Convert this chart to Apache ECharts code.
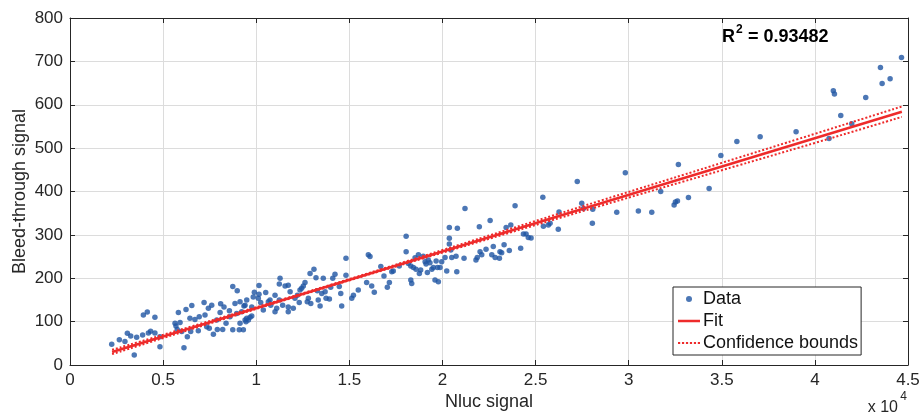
<!DOCTYPE html>
<html><head><meta charset="utf-8">
<script src="https://cdn.jsdelivr.net/npm/echarts@6/dist/echarts.min.js"></script>
<style>html,body{margin:0;padding:0;background:#fff}#c{width:922px;height:417px}</style>
</head><body><div id="c"></div>
<script>
// Nluc signal (x 10^4) and bleed-through signal for each measured sample
const nlucSignal = [
0.224,0.265,0.295,0.308,0.326,0.345,0.358,0.390,0.394,0.415,0.421,0.433,0.456,0.456,0.483,0.483,0.564,0.569,0.582,0.591,
0.576,0.600,0.612,0.623,0.630,0.644,0.648,0.654,0.671,0.694,0.689,0.720,0.725,0.734,0.743,0.748,0.761,0.770,0.788,0.791,
0.806,0.809,0.820,0.827,0.838,0.856,0.859,0.874,0.874,0.886,0.895,0.898,0.909,0.913,0.922,0.934,0.945,0.949,0.958,
0.990,1.015,1.015,1.051,1.101,1.128,1.011,1.074,1.124,
0.940,0.976,0.984,1.024,0.940,0.949,0.967,0.976,0.931,0.913,1.038,1.065,1.078,1.101,1.110,1.124,1.142,1.155,1.172,1.172,
1.172,1.182,1.199,1.208,1.221,1.231,1.235,1.244,1.253,1.262,1.274,1.280,1.289,1.293,1.310,1.321,1.328,1.333,1.343,1.352,
1.360,1.370,1.375,1.393,1.400,1.411,1.423,1.446,1.454,1.459,1.482,1.482,1.513,1.522,1.548,1.602,1.611,1.593,1.620,1.634,
1.669,1.686,1.704,1.715,
1.728,1.736,1.768,1.805,1.805,1.817,1.830,1.835,1.830,1.844,1.858,1.871,1.876,1.883,1.897,1.907,1.912,1.919,1.924,1.933,
1.943,1.951,1.960,1.966,1.973,1.978,1.987,1.996,2.014,2.023,2.037,2.037,2.037,2.045,2.050,2.073,2.080,2.077,2.116,2.121,
2.180,2.187,2.198,2.202,2.211,2.234,2.256,2.265,2.273,2.283,2.306,2.309,2.318,2.331,2.342,2.359,2.367,2.390,2.420,2.435,
2.449,2.461,2.476,1.853,
2.539,2.542,2.569,2.578,2.622,2.626,2.724,2.748,2.757,2.807,2.805,2.936,2.982,3.052,3.124,3.172,3.244,3.251,3.262,3.267,
3.321,3.432,3.495,3.581,3.706,3.899,4.076,4.099,4.105,4.139,4.198,4.273,4.352,4.361,4.404,4.465
];
const bleedSignal = [
48,58,54,73,67,23,64,69,115,122,74,78,110,74,42,65,96,90,121,98,
82,77,40,128,65,108,77,137,105,111,79,144,115,88,131,85,138,71,104,82,
121,141,82,134,96,125,111,181,81,142,119,171,81,146,123,136,100,150,104,
168,183,163,167,161,200,154,150,187,
138,134,157,144,104,108,110,113,81,96,127,146,138,123,131,150,138,182,184,134,
123,169,131,154,161,144,173,177,182,190,146,154,211,142,221,201,171,150,136,165,
200,169,154,152,179,200,209,181,165,136,246,207,154,161,173,254,250,190,182,168,
227,205,179,190,
215,217,228,297,261,234,196,188,228,225,221,254,211,219,251,238,233,213,242,236,
221,225,196,240,225,192,225,238,248,217,317,292,279,265,248,251,315,215,246,361,
242,248,319,261,254,267,333,254,273,248,246,261,259,277,317,264,323,367,269,302,
302,294,293,247,
387,320,323,327,313,353,423,373,361,359,327,352,443,355,352,400,369,376,378,462,
386,407,483,515,526,538,522,632,625,575,556,617,686,649,660,709
];
// Linear fit and its confidence bounds
const fitX = [0.226, 4.467];
const fitY = [30, 584];
const boundX = [0.226, 0.7, 1.4, 2.0, 2.85, 3.5, 4.0, 4.467];
const upperY = [35, 95, 185, 265, 379, 466, 533, 596];
const lowerY = [25, 89, 182, 259, 367, 449, 512, 572];
const rSquared = '0.93482';
const xLabel = 'Nluc signal';
const yLabel = 'Bleed-through signal';
const seriesNames = ['Data', 'Fit', 'Confidence bounds'];

const FONT = '"Liberation Sans", Arial, Helvetica, sans-serif';
const AX = '#262626';
const RED = '#ee2b2b';
const BLUE = '#1f55a3';

const chart = echarts.init(document.getElementById('c'), null, {renderer: 'canvas'});
const pairs = (xs, ys) => xs.map((x, i) => [x, ys[i]]);

const axisCommon = {
  type: 'value',
  axisLine: {show: true, onZero: false, lineStyle: {color: AX, width: 1}},
  axisTick: {show: true, inside: true, length: 5, lineStyle: {color: AX, width: 1}},
};

const solidIcon = 'path://M0,0H22V2.5H0Z';
const dottedIcon = 'path://M0,0h2.2v2.2h-2.2zM4,0h2.2v2.2h-2.2zM8,0h2.2v2.2h-2.2zM12,0h2.2v2.2h-2.2zM16,0h2.2v2.2h-2.2zM20,0h2.2v2.2h-2.2z';

chart.setOption({
  animation: false,
  backgroundColor: '#fff',
  textStyle: {fontFamily: FONT},
  grid: {left: 70, right: 14, top: 18, bottom: 52, containLabel: false, outerBoundsMode: 'none'},
  xAxis: [
    Object.assign({}, axisCommon, {
      min: 0, max: 4.5, interval: 0.5, position: 'bottom',
      axisLabel: {color: AX, fontSize: 17, margin: 7, fontFamily: FONT},
      splitLine: {show: true, lineStyle: {color: '#dcdcdc', width: 1}},
      name: xLabel, nameLocation: 'middle', nameGap: 28, nameMoveOverlap: false,
      nameTextStyle: {color: AX, fontSize: 18, fontFamily: FONT}
    }),
    Object.assign({}, axisCommon, {
      min: 0, max: 4.5, interval: 0.5, position: 'top',
      axisLabel: {show: false}, splitLine: {show: false}
    })
  ],
  yAxis: [
    Object.assign({}, axisCommon, {
      min: 0, max: 800, interval: 100, position: 'left',
      axisLabel: {color: AX, fontSize: 17, margin: 7, fontFamily: FONT},
      splitLine: {show: true, lineStyle: {color: '#dcdcdc', width: 1}},
      name: yLabel, nameLocation: 'middle', nameGap: 41, nameMoveOverlap: false,
      nameTextStyle: {color: AX, fontSize: 18, fontFamily: FONT}
    }),
    Object.assign({}, axisCommon, {
      min: 0, max: 800, interval: 100, position: 'right',
      axisLabel: {show: false}, splitLine: {show: false}
    })
  ],
  legend: {
    orient: 'vertical', left: 673, top: 287,
    data: [
      {name: seriesNames[0], icon: 'circle'},
      {name: seriesNames[1], icon: solidIcon},
      {name: seriesNames[2], icon: dottedIcon}
    ],
    backgroundColor: '#fff', borderColor: AX, borderWidth: 1, borderRadius: 0,
    padding: [2, 3, 2, 5], itemGap: 2, itemWidth: 22, itemHeight: 6,
    textStyle: {color: '#111', fontSize: 18, lineHeight: 20, fontFamily: FONT, padding: [0, 0, 0, -2]}
  },
  graphic: [
    {type: 'text', left: 722, top: 28, z: 100, style: {text: 'R', font: 'bold 18px ' + FONT, fill: '#000'}},
    {type: 'text', left: 736, top: 24, z: 100, style: {text: '2', font: 'bold 12px ' + FONT, fill: '#000'}},
    {type: 'text', left: 748, top: 28, z: 100, style: {text: '= ' + rSquared, font: 'bold 18px ' + FONT, fill: '#000'}},
    {type: 'text', right: 24, top: 400, style: {text: 'x 10', font: '16px ' + FONT, fill: AX}},
    {type: 'text', right: 15, top: 391, style: {text: '4', font: '12px ' + FONT, fill: AX}}
  ],
  series: [
    {
      name: seriesNames[0], type: 'scatter', xAxisIndex: 0, yAxisIndex: 0,
      data: pairs(nlucSignal, bleedSignal), symbol: 'circle', symbolSize: 5.5,
      itemStyle: {color: BLUE}, z: 2
    },
    {
      name: seriesNames[1], type: 'line', data: pairs(fitX, fitY),
      symbol: 'none', lineStyle: {color: RED, width: 2.5}, itemStyle: {color: RED}, z: 4
    },
    {
      name: seriesNames[2], type: 'line', data: pairs(boundX, upperY), smooth: true,
      symbol: 'none', lineStyle: {color: RED, width: 2, type: [2, 2]}, itemStyle: {color: RED}, z: 3
    },
    {
      name: seriesNames[2], type: 'line', data: pairs(boundX, lowerY), smooth: true,
      symbol: 'none', lineStyle: {color: RED, width: 2, type: [2, 2]}, itemStyle: {color: RED}, z: 3
    }
  ]
});
</script>
</body></html>
